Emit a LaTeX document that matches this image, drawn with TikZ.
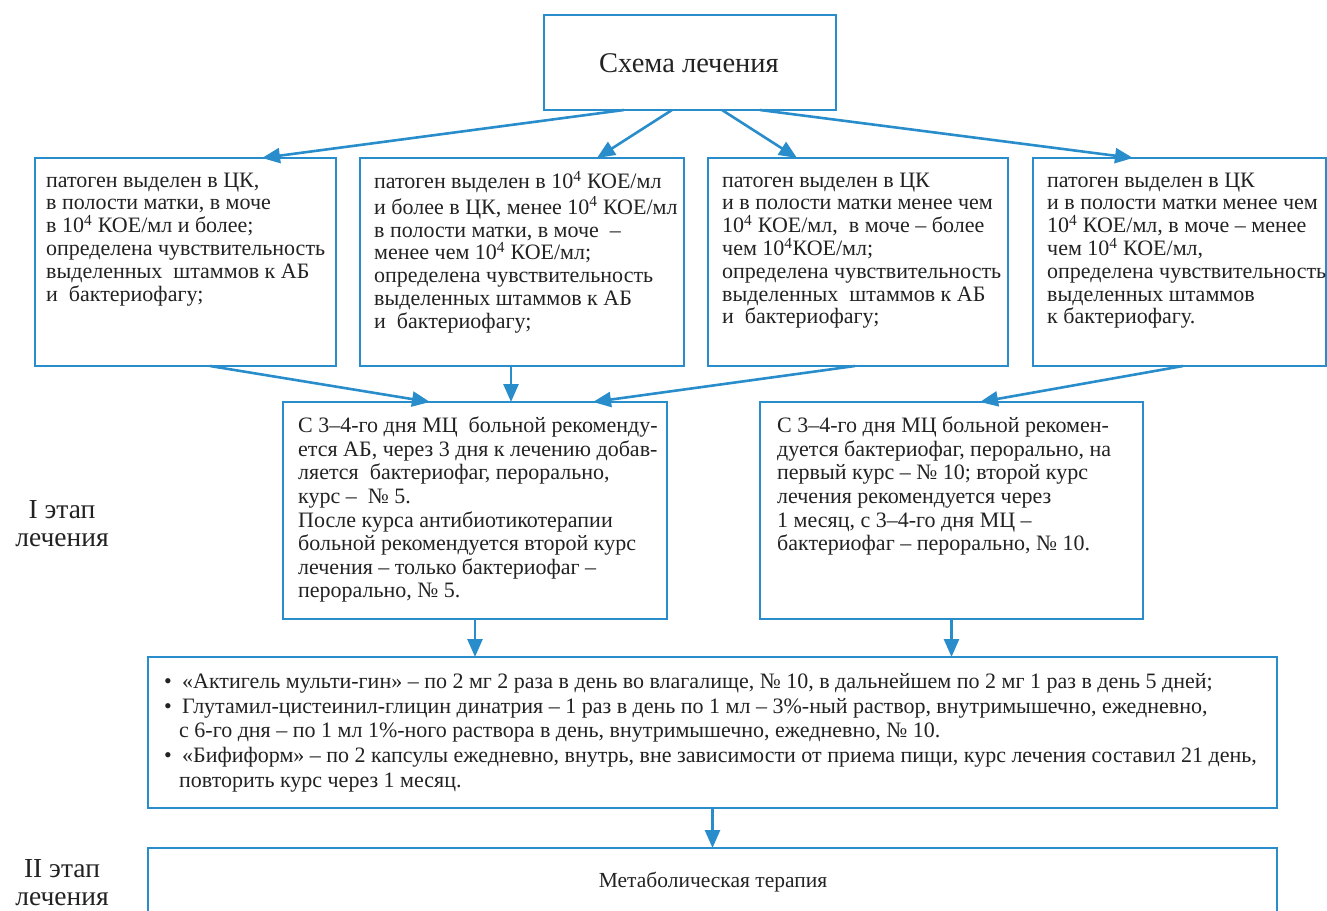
\documentclass[tikz,border=0pt]{standalone}
\usepackage{fontspec}
\setmainfont{Liberation Serif}
\usetikzlibrary{arrows.meta,calc}
\definecolor{bl}{HTML}{2A8DCB}
\definecolor{tx}{HTML}{222222}
\newcommand\supf{\textsuperscript{4}}
\begin{document}
\begin{tikzpicture}[x=1pt,y=-1pt,
  boxst/.style={draw=bl,line width=2.6pt,rectangle,inner sep=0pt,outer sep=0pt,anchor=north west},
  txt/.style={text=tx,align=left,inner sep=0pt,anchor=north west,font=\fontsize{22}{22.8}\selectfont},
  txtb/.style={text=tx,align=left,inner sep=0pt,anchor=north west,font=\fontsize{22}{23.6}\selectfont},
  txtc/.style={text=tx,align=left,inner sep=0pt,anchor=north west,font=\fontsize{22}{24.7}\selectfont},
  lab/.style={text=tx,align=center,inner sep=0pt,font=\fontsize{27.5}{28}\selectfont},
  arr/.style={draw=bl,line width=2.6pt,-{Triangle[length=18pt,width=15pt]}}]
\useasboundingbox (0,0) rectangle (1327,910);
\clip (0,0) rectangle (1327,910);
% boxes
\node[boxst,minimum width=292pt,minimum height=95pt] (top) at (544,15) {};
\node[boxst,minimum width=301pt,minimum height=208pt] (b1) at (35,158) {};
\node[boxst,minimum width=324pt,minimum height=208pt] (b2) at (360,158) {};
\node[boxst,minimum width=300pt,minimum height=208pt] (b3) at (708,158) {};
\node[boxst,minimum width=293pt,minimum height=208pt] (b4) at (1033,158) {};
\node[boxst,minimum width=384pt,minimum height=217pt] (b5) at (283,402) {};
\node[boxst,minimum width=383pt,minimum height=217pt] (b6) at (760,402) {};
\node[boxst,minimum width=1129pt,minimum height=151pt] (b7) at (148,657) {};
\node[boxst,minimum width=1129pt,minimum height=90pt] (b8) at (148,848) {};
% texts
\node[text=tx,inner sep=0pt,font=\fontsize{28.5}{32}\selectfont] (ttop) at (689,63) {Схема лечения};
\node[txt] (t1) at (46,171) {\strut патоген выделен в ЦК,\\в полости матки, в моче\\в 10\supf{} КОЕ/мл и более;\\определена чувствительность\\выделенных\ \ штаммов к АБ\\и\ \ бактериофагу;};
\node[txt] (t2) at (374,171) {\strut патоген выделен в 10\supf{} КОЕ/мл\\и более в ЦК, менее 10\supf{} КОЕ/мл\\в полости матки, в моче\ \ –\\менее чем 10\supf{} КОЕ/мл;\\определена чувствительность\\выделенных штаммов к АБ\\и\ \ бактериофагу;};
\node[txt] (t3) at (722,171) {\strut патоген выделен в ЦК\\и в полости матки менее чем\\10\supf{} КОЕ/мл,\ \ в моче – более\\чем 10\supf КОЕ/мл;\\определена чувствительность\\выделенных\ \ штаммов к АБ\\и\ \ бактериофагу;};
\node[txt] (t4) at (1047,171) {\strut патоген выделен в ЦК\\и в полости матки менее чем\\10\supf{} КОЕ/мл, в моче – менее\\чем 10\supf{} КОЕ/мл,\\определена чувствительность\\выделенных штаммов\\к бактериофагу.};
\node[txtb] (t5) at (298,416) {\strut С 3–4-го дня МЦ\ \ больной рекоменду-\\ется АБ, через 3 дня к лечению добав-\\ляется\ \ бактериофаг, перорально,\\курс –\ \ № 5.\\После курса антибиотикотерапии\\больной рекомендуется второй курс\\лечения – только бактериофаг –\\перорально, № 5.};
\node[txtb] (t6) at (777,416) {\strut С 3–4-го дня МЦ больной рекомен-\\дуется бактериофаг, перорально, на\\первый курс – № 10; второй курс\\лечения рекомендуется через\\1 месяц, с 3–4-го дня МЦ –\\бактериофаг – перорально, № 10.};
\node[txtc] (t7) at (164,671) {\strut\makebox[18pt][l]{•}«Актигель мульти-гин» – по 2 мг 2 раза в день во влагалище, № 10, в дальнейшем по 2 мг 1 раз в день 5 дней;\\\makebox[18pt][l]{•}Глутамил-цистеинил-глицин динатрия – 1 раз в день по 1 мл – 3\%-ный раствор, внутримышечно, ежедневно,\\\hspace*{15pt}с 6-го дня – по 1 мл 1\%-ного раствора в день, внутримышечно, ежедневно, № 10.\\\makebox[18pt][l]{•}«Бифиформ» – по 2 капсулы ежедневно, внутрь, вне зависимости от приема пищи, курс лечения составил 21 день,\\\hspace*{15pt}повторить курс через 1 месяц.};
\node[text=tx,inner sep=0pt,font=\fontsize{21.5}{24}\selectfont] (t8) at (713,882) {Метаболическая терапия};
\node[lab] (l1) at (62,524) {I этап\\лечения};
\node[lab] (l2) at (62,883) {II этап\\лечения};
% arrows
\draw[arr] ([xshift=80pt]top.south west) -- ([xshift=227pt]b1.north west);
\draw[arr] ([xshift=128pt]top.south west) -- ([xshift=237pt]b2.north west);
\draw[arr] ([xshift=178pt]top.south west) -- ([xshift=89pt]b3.north west);
\draw[arr] ([xshift=216pt]top.south west) -- ([xshift=100pt]b4.north west);
\draw[arr] ([xshift=175pt]b1.south west) -- ([xshift=147pt]b5.north west);
\draw[arr] ([xshift=151pt]b2.south west) -- ([xshift=228pt]b5.north west);
\draw[arr] ([xshift=147pt]b3.south west) -- ([xshift=310pt]b5.north west);
\draw[arr] ([xshift=150pt]b4.south west) -- ([xshift=220pt]b6.north west);
\draw[arr] (b5.south) -- (b5.south |- b7.north);
\draw[arr] (b6.south) -- (b6.south |- b7.north);
\draw[arr] (b7.south) -- (b8.north);
\end{tikzpicture}
\end{document}
